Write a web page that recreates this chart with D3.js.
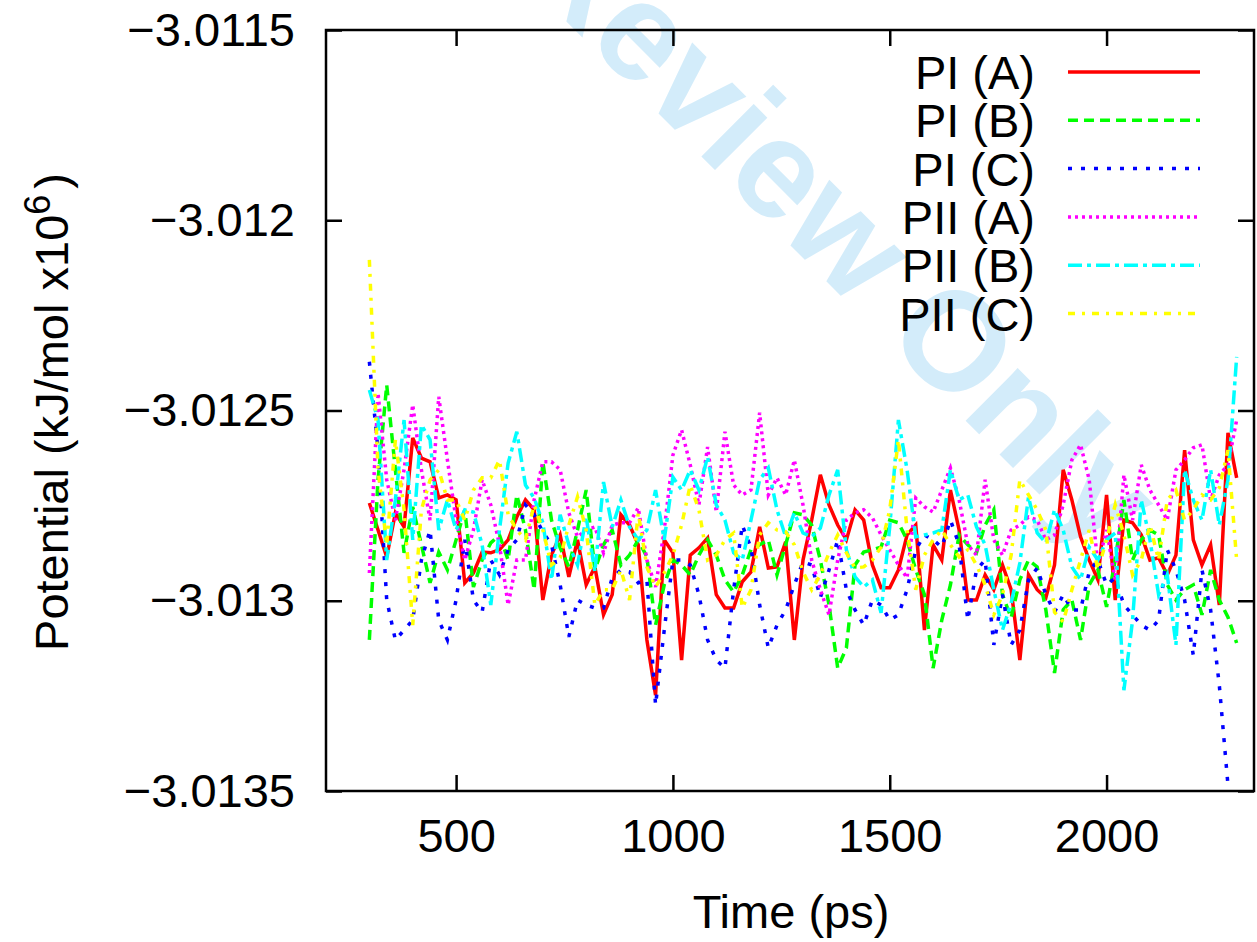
<!DOCTYPE html>
<html>
<head>
<meta charset="utf-8">
<script src="https://cdn.jsdelivr.net/npm/d3@7"></script>
<style>
  body { margin: 0; background: #fff; }
  text { font-family: "Liberation Sans", Arial, sans-serif; fill: #000; }
</style>
</head>
<body>
<script>
// time axis (ps)
const times = [
  300, 320, 340, 360, 380, 400, 420, 440, 460, 480,
  500, 520, 540, 560, 580, 600, 620, 640, 660, 680,
  700, 720, 740, 760, 780, 800, 820, 840, 860, 880,
  900, 920, 940, 960, 980, 1000, 1020, 1040, 1060, 1080,
  1100, 1120, 1140, 1160, 1180, 1200, 1220, 1240, 1260, 1280,
  1300, 1320, 1340, 1360, 1380, 1400, 1420, 1440, 1460, 1480,
  1500, 1520, 1540, 1560, 1580, 1600, 1620, 1640, 1660, 1680,
  1700, 1720, 1740, 1760, 1780, 1800, 1820, 1840, 1860, 1880,
  1900, 1920, 1940, 1960, 1980, 2000, 2020, 2040, 2060, 2080,
  2100, 2120, 2140, 2160, 2180, 2200, 2220, 2240, 2260, 2280,
  2300
]

// potential (kJ/mol x10^6)
const piA = [
  -3.012743, -3.012814, -3.012885, -3.012769, -3.012806, -3.012572, -3.012625, -3.012635, -3.012730, -3.012722,
  -3.012735, -3.012953, -3.012927, -3.012872, -3.012874, -3.012866, -3.012840, -3.012780, -3.012735, -3.012761,
  -3.012998, -3.012880, -3.012827, -3.012937, -3.012840, -3.012958, -3.012911, -3.013037, -3.012984, -3.012774,
  -3.012801, -3.012853, -3.013103, -3.013248, -3.012840, -3.012874, -3.013156, -3.012880, -3.012861, -3.012835,
  -3.012984, -3.013019, -3.013019, -3.012950, -3.012924, -3.012806, -3.012914, -3.012911, -3.012845, -3.013103,
  -3.012893, -3.012788, -3.012669, -3.012748, -3.012801, -3.012840, -3.012761, -3.012788, -3.012906, -3.012966,
  -3.012966, -3.012919, -3.012827, -3.012801, -3.013077, -3.012853, -3.012893, -3.012709, -3.012814, -3.012998,
  -3.012998, -3.012932, -3.012971, -3.012906, -3.012971, -3.013156, -3.012932, -3.012971, -3.012992, -3.012906,
  -3.012656, -3.012735, -3.012832, -3.012893, -3.012945, -3.012722, -3.012998, -3.012788, -3.012795, -3.012827,
  -3.012893, -3.012887, -3.012932, -3.012880, -3.012604, -3.012840, -3.012906, -3.012853, -3.013011, -3.012559,
  -3.012677
]
const piB = [
  -3.013103, -3.012682, -3.012433, -3.012656, -3.012874, -3.012753, -3.012853, -3.012953, -3.012872, -3.012919,
  -3.012840, -3.012761, -3.012964, -3.012893, -3.012848, -3.012827, -3.012893, -3.012722, -3.012814, -3.012971,
  -3.012635, -3.012788, -3.012861, -3.012911, -3.012814, -3.012709, -3.012919, -3.012853, -3.012814, -3.012906,
  -3.012880, -3.012840, -3.012885, -3.013064, -3.012958, -3.012893, -3.012906, -3.012932, -3.012880, -3.012840,
  -3.012880, -3.012945, -3.012977, -3.012932, -3.012866, -3.012853, -3.012840, -3.012932, -3.012853, -3.012769,
  -3.012774, -3.012801, -3.012893, -3.013011, -3.013177, -3.013124, -3.012906, -3.012872, -3.012866, -3.012859,
  -3.012788, -3.012795, -3.012840, -3.012919, -3.012984, -3.013177, -3.013051, -3.012958, -3.012827, -3.012853,
  -3.012874, -3.012801, -3.012761, -3.012984, -3.013045, -3.012945, -3.012893, -3.012911, -3.013024, -3.013190,
  -3.013024, -3.012998, -3.013103, -3.012958, -3.012919, -3.013016, -3.012893, -3.012735, -3.012893, -3.012840,
  -3.012814, -3.012827, -3.012958, -3.012998, -3.012971, -3.012958, -3.013037, -3.012919, -3.012998, -3.013043,
  -3.013111
]
const piC = [
  -3.012372, -3.012604, -3.012998, -3.013103, -3.013077, -3.013051, -3.012893, -3.012814, -3.013051, -3.013103,
  -3.012998, -3.012840, -3.012998, -3.013030, -3.012893, -3.012932, -3.012866, -3.012840, -3.012748, -3.012774,
  -3.012819, -3.012853, -3.012958, -3.013095, -3.012998, -3.013011, -3.013019, -3.013019, -3.012940, -3.012919,
  -3.012924, -3.012953, -3.012945, -3.013274, -3.013077, -3.012893, -3.012893, -3.012906, -3.012984, -3.013103,
  -3.013156, -3.013177, -3.012971, -3.012801, -3.012861, -3.013011, -3.013124, -3.013064, -3.013024, -3.012958,
  -3.012898, -3.012906, -3.012992, -3.012919, -3.012840, -3.012971, -3.013024, -3.013064, -3.012998, -3.013011,
  -3.013051, -3.013037, -3.012971, -3.012866, -3.012827, -3.012840, -3.012859, -3.012788, -3.012853, -3.013051,
  -3.012919, -3.012893, -3.013116, -3.012984, -3.013116, -3.013077, -3.012945, -3.012914, -3.012984, -3.013030,
  -3.012984, -3.013024, -3.013024, -3.012924, -3.012893, -3.012958, -3.012940, -3.013011, -3.013037, -3.013064,
  -3.013077, -3.013051, -3.012866, -3.012919, -3.012998, -3.013143, -3.012919, -3.013024, -3.013222, -3.013485
]
const piiA = [
  -3.012927, -3.012454, -3.012682, -3.012788, -3.012656, -3.012485, -3.012656, -3.012788, -3.012464, -3.012630,
  -3.012788, -3.012893, -3.012814, -3.012682, -3.012748, -3.012853, -3.013011, -3.012893, -3.012893, -3.012735,
  -3.012635, -3.012635, -3.012656, -3.012769, -3.012832, -3.012814, -3.012806, -3.012874, -3.012801, -3.012795,
  -3.012795, -3.012756, -3.012893, -3.012964, -3.012814, -3.012617, -3.012551, -3.012643, -3.012748, -3.012596,
  -3.012767, -3.012556, -3.012696, -3.012722, -3.012709, -3.012506, -3.012722, -3.012677, -3.012722, -3.012630,
  -3.012748, -3.012893, -3.012971, -3.013037, -3.012893, -3.012788, -3.012769, -3.012761, -3.012782, -3.012827,
  -3.012866, -3.012906, -3.012940, -3.012730, -3.012753, -3.012767, -3.012709, -3.012651, -3.012735, -3.012853,
  -3.012880, -3.012682, -3.012840, -3.012880, -3.012814, -3.012801, -3.012780, -3.012788, -3.012840, -3.012827,
  -3.012748, -3.012630, -3.012590, -3.012682, -3.012906, -3.012814, -3.012945, -3.012669, -3.012788, -3.012643,
  -3.012709, -3.012748, -3.012788, -3.012656, -3.012630, -3.012598, -3.012590, -3.012735, -3.012669, -3.012643,
  -3.012525
]
const piiB = [
  -3.012446, -3.012525, -3.012893, -3.012735, -3.012525, -3.012840, -3.012538, -3.012577, -3.012814, -3.012735,
  -3.012814, -3.012761, -3.012767, -3.012853, -3.013011, -3.012814, -3.012638, -3.012556, -3.012696, -3.012730,
  -3.012795, -3.012945, -3.012774, -3.012853, -3.012906, -3.012780, -3.012924, -3.012688, -3.012806, -3.012735,
  -3.012806, -3.012840, -3.012814, -3.012709, -3.012840, -3.012675, -3.012709, -3.012656, -3.012709, -3.012622,
  -3.012748, -3.012788, -3.012874, -3.012893, -3.012788, -3.012682, -3.012651, -3.012761, -3.012832, -3.012769,
  -3.012822, -3.012832, -3.012809, -3.012722, -3.012656, -3.012866, -3.012937, -3.012964, -3.012945, -3.013032,
  -3.012806, -3.012525, -3.012656, -3.012832, -3.012827, -3.012822, -3.012814, -3.012656, -3.012735, -3.012722,
  -3.012806, -3.012853, -3.012971, -3.013077, -3.013006, -3.012901, -3.012727, -3.012822, -3.012848, -3.012761,
  -3.012814, -3.012911, -3.012945, -3.012859, -3.012893, -3.012840, -3.012822, -3.013235, -3.013051, -3.012735,
  -3.012840, -3.012984, -3.012932, -3.013116, -3.012656, -3.012735, -3.012788, -3.012656, -3.012801, -3.012682,
  -3.012359
]
const piiC = [
  -3.012104, -3.012656, -3.012853, -3.012577, -3.012761, -3.013064, -3.012761, -3.012682, -3.012656, -3.012735,
  -3.012735, -3.012788, -3.012709, -3.012677, -3.012677, -3.012630, -3.012774, -3.012814, -3.012840, -3.012748,
  -3.012814, -3.012906, -3.012887, -3.012801, -3.012727, -3.012814, -3.013011, -3.012971, -3.012971, -3.012919,
  -3.012998, -3.012769, -3.012911, -3.012964, -3.012927, -3.012880, -3.012801, -3.012696, -3.012761, -3.012893,
  -3.012880, -3.012840, -3.012822, -3.013019, -3.012971, -3.012827, -3.012795, -3.012814, -3.012819, -3.012853,
  -3.012924, -3.012971, -3.012932, -3.012874, -3.012827, -3.012874, -3.012914, -3.012911, -3.012893, -3.012859,
  -3.012761, -3.012577, -3.012814, -3.012971, -3.012880, -3.012840, -3.012814, -3.012853, -3.012885, -3.012866,
  -3.012906, -3.012958, -3.013037, -3.012984, -3.012880, -3.012682, -3.012722, -3.012761, -3.012814, -3.013030,
  -3.013056, -3.012971, -3.012893, -3.012814, -3.012919, -3.012840, -3.012748, -3.012827, -3.012932, -3.012893,
  -3.012801, -3.012893, -3.012735, -3.012709, -3.012788, -3.012761, -3.012722, -3.012735, -3.012703, -3.012604,
  -3.012893
]

const seriesNames = ['PI (A)', 'PI (B)', 'PI (C)', 'PII (A)', 'PII (B)', 'PII (C)']
const xTicks = [500, 1000, 1500, 2000]
const yTicks = [-3.0115, -3.012, -3.0125, -3.013, -3.0135]

const series = [
  { name: seriesNames[0], values: piA, color: '#ff0000', dash: null },
  { name: seriesNames[1], values: piB, color: '#00ff00', dash: '10,6' },
  { name: seriesNames[2], values: piC, color: '#0000ff', dash: '4,9' },
  { name: seriesNames[3], values: piiA, color: '#ff00ff', dash: '3,4' },
  { name: seriesNames[4], values: piiB, color: '#00ffff', dash: '14,5,4,5' },
  { name: seriesNames[5], values: piiC, color: '#ffff00', dash: '7,7,3,7' }
]

// svg dimension
const width = 1257
const height = 942
const margin = { top: 30, bottom: 151, left: 326, right: 3 }
const innerWidth = width - margin.left - margin.right
const innerHeight = height - margin.top - margin.bottom
const fontSize = 47
const tickLen = 16
const lineWidth = 3.5

const svg = d3.select('body')
  .append('svg')
  .attr('width', width)
  .attr('height', height)

// watermark behind everything
svg.append('text')
  .attr('transform', 'translate(326,-219) rotate(45)')
  .style('font-size', '140px')
  .style('font-weight', 'bold')
  .style('fill', '#d3ecfa')
  .text('For Review Only')

const main = svg.append('g')
  .attr('transform', `translate(${margin.left}, ${margin.top})`)

const xScale = d3.scaleLinear()
  .domain([200, 2340])
  .range([0, innerWidth])

const yScale = d3.scaleLinear()
  .domain([-3.0135, -3.0115])
  .range([innerHeight, 0])

// axes, ticks pointing inward like gnuplot
const styleAxis = g => {
  g.select('.domain').remove()
  g.selectAll('line').attr('stroke', '#000').attr('stroke-width', 2.5)
  g.selectAll('text').style('font-size', fontSize + 'px').style('font-family', '"Liberation Sans", Arial, sans-serif')
}
const noLabels = g => g.selectAll('text').remove()

main.append('g')
  .attr('transform', `translate(0, ${innerHeight})`)
  .call(d3.axisBottom(xScale).tickValues(xTicks).tickSizeInner(-tickLen).tickSizeOuter(0).tickPadding(28)
    .tickFormat(d => String(d)))
  .call(styleAxis)

main.append('g')
  .call(d3.axisTop(xScale).tickValues(xTicks).tickSizeInner(-tickLen).tickSizeOuter(0))
  .call(styleAxis)
  .call(noLabels)

main.append('g')
  .call(d3.axisLeft(yScale).tickValues(yTicks).tickSizeInner(-tickLen).tickSizeOuter(0).tickPadding(31)
    .tickFormat(d => '\u2212' + Math.abs(d)))
  .call(styleAxis)

main.append('g')
  .attr('transform', `translate(${innerWidth}, 0)`)
  .call(d3.axisRight(yScale).tickValues(yTicks).tickSizeInner(-tickLen).tickSizeOuter(0))
  .call(styleAxis)
  .call(noLabels)

// lines
const line = d3.line()
  .x((d, i) => xScale(times[i]))
  .y(d => yScale(d))

main.append('g')
  .selectAll('path')
  .data(series)
  .enter()
  .append('path')
  .attr('d', d => line(d.values))
  .attr('fill', 'none')
  .attr('stroke', d => d.color)
  .attr('stroke-width', lineWidth)
  .attr('stroke-linejoin', 'miter')
  .attr('stroke-dasharray', d => d.dash)

// border
main.append('rect')
  .attr('width', innerWidth)
  .attr('height', innerHeight)
  .attr('fill', 'none')
  .attr('stroke', '#000')
  .attr('stroke-width', 2.5)

// legend
const legend = svg.append('g')
  .selectAll('g')
  .data(series)
  .enter()
  .append('g')
  .attr('transform', (d, i) => `translate(0, ${72 + i * 48.3})`)

legend.append('text')
  .attr('x', 1035)
  .attr('y', 17)
  .attr('text-anchor', 'end')
  .style('font-size', fontSize + 'px')
  .text(d => d.name)

legend.append('line')
  .attr('x1', 1068)
  .attr('x2', 1200)
  .attr('stroke', d => d.color)
  .attr('stroke-width', lineWidth)
  .attr('stroke-dasharray', d => d.dash)

// x-axis label
svg.append('text')
  .attr('x', 791)
  .attr('y', 928)
  .attr('text-anchor', 'middle')
  .style('font-size', fontSize + 'px')
  .text('Time (ps)')

// y-axis label
const ylab = svg.append('text')
  .attr('transform', 'translate(68, 412) rotate(-90)')
  .attr('text-anchor', 'middle')
  .style('font-size', fontSize + 'px')
ylab.append('tspan').text('Potential (kJ/mol x10')
ylab.append('tspan').attr('dy', -18).style('font-size', '36px').text('6')
ylab.append('tspan').attr('dy', 18).attr('dx', 6).text(')')
</script>
</body>
</html>
